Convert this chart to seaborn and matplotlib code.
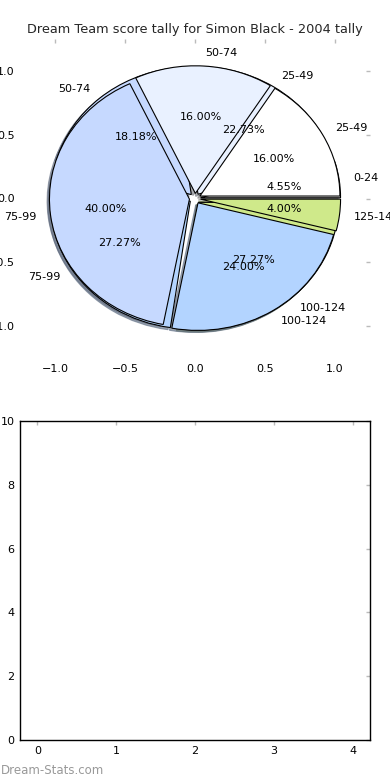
import matplotlib
matplotlib.use("Agg")
import matplotlib.pyplot as plt
import seaborn as sns

# score bands and counts for the two tallies
bands_a = ['25-49', '50-74', '75-99', '100-124', '125-149']
counts_a = [4, 4, 10, 6, 1]
bands_b = ['0-24', '25-49', '50-74', '75-99', '100-124']
counts_b = [1, 5, 4, 6, 6]
colours = ['#ffffff', '#e9f1ff', '#c6d9ff', '#b3d4ff', '#cfe98a']

title = 'Dream Team score tally for Simon Black - 2004 tally'

sns.set_theme(style='white')
plt.rcParams['font.family'] = ['DejaVu Sans']

fig = plt.figure(figsize=(3.9, 7.8), dpi=100)
ax1 = fig.add_axes([20 / 390, 1 - 358 / 780, 350 / 390, 319 / 780])
ax2 = fig.add_axes([20 / 390, 40 / 780, 350 / 390, 319 / 780])

wedge_style = dict(edgecolor='black', linewidth=0.8)
shadow_style = dict(ox=-0.012, oy=-0.012, shade=0.5, alpha=0.6)
for counts, bands in [(counts_b, bands_b), (counts_a, bands_a)]:
    ax1.pie(counts, labels=bands, colors=colours, explode=[0.04] * len(counts),
            autopct='%1.2f%%', shadow=shadow_style, wedgeprops=wedge_style,
            textprops=dict(fontsize=8, color='black'))

ax1.set_aspect('auto')
ax1.set_frame_on(False)
ax1.set_xlim(-1.25, 1.25)
ax1.set_ylim(-1.25, 1.25)
ticks = [-1.0, -0.5, 0.0, 0.5, 1.0]
ax1.set_xticks(ticks)
ax1.set_yticks(ticks)
ax1.set_xticklabels(['\u22121.0', '\u22120.5', '0.0', '0.5', '1.0'])
ax1.set_yticklabels(['\u22121.0', '\u22120.5', '0.0', '0.5', '1.0'])
ax1.set_title(title, fontsize=9.25, pad=4)

# empty second panel
ax2.set_xlim(-0.22, 4.22)
ax2.set_ylim(0, 10)
ax2.set_xticks(range(5))
ax2.set_yticks(range(0, 11, 2))
for side in ax2.spines.values():
    side.set_visible(True)
    side.set_color('black')
    side.set_linewidth(1)

for ax in (ax1, ax2):
    ax.tick_params(direction='in', top=True, right=True, length=3, width=1,
                   color='#bbbbbb', labelsize=8, labelcolor='black', pad=4)
    ax.grid(False)

fig.text(0.003, 0.008, 'Dream-Stats.com', color='#999999', fontsize=8.5)

fig.savefig('out.png', dpi=100)
